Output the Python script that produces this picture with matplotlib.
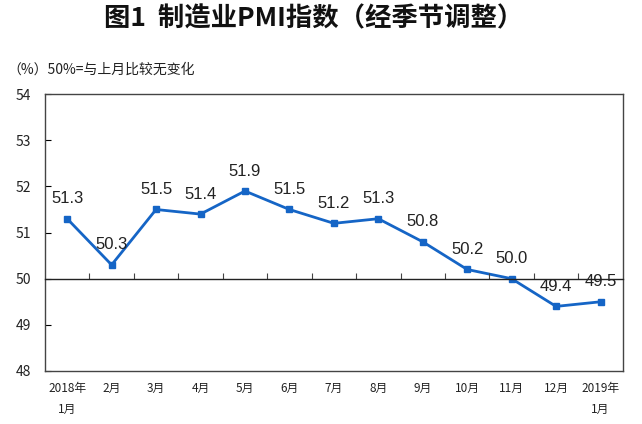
import matplotlib
matplotlib.use('Agg')
import matplotlib.pyplot as plt
import numpy as np

plt.rcParams['font.family'] = ['Noto Sans CJK SC', 'DejaVu Sans']
plt.rcParams['axes.unicode_minus'] = False

# 数据
MONTHS = ['2018年\n1月', '2月', '3月', '4月', '5月', '6月', '7月',
          '8月', '9月', '10月', '11月', '12月', '2019年\n1月']
PMI = [51.3, 50.3, 51.5, 51.4, 51.9, 51.5, 51.2, 51.3, 50.8, 50.2, 50.0, 49.4, 49.5]
Y_TICKS = [48, 49, 50, 51, 52, 53, 54]

LINE_COLOR = '#1565C6'

fig = plt.figure(figsize=(6.42, 4.24), dpi=100)
ax = fig.add_axes([0.070, 0.125, 0.900, 0.653])

x = np.arange(len(PMI))
ax.plot(x, PMI, color=LINE_COLOR, lw=2.0, marker='s', ms=4.5,
        markerfacecolor=LINE_COLOR, markeredgecolor=LINE_COLOR)

for xi, v in zip(x, PMI):
    ax.annotate(f'{v:.1f}', (xi, v), xytext=(0, 9), textcoords='offset points',
                ha='center', va='bottom', fontsize=12, color='#222222',
                family=['Liberation Sans', 'DejaVu Sans'])

ax.set_xlim(-0.5, len(PMI) - 0.5)
ax.set_ylim(48, 54)
ax.set_yticks(Y_TICKS)
ax.set_yticklabels([str(t) for t in Y_TICKS], fontsize=10, color='#222222')
ax.tick_params(axis='y', direction='in', length=4, pad=10, width=0.8)
ax.set_xticks(x)
ax.set_xticklabels(MONTHS, fontsize=8.5, color='#222222', linespacing=1.8)
ax.tick_params(axis='x', length=0, pad=8)
for s in ax.spines.values():
    s.set_color('#444444')
    s.set_linewidth(1.0)

# 50 基准线（带刻度）
ax2 = ax.twiny()
ax2.set_xlim(ax.get_xlim())
for name in ['top', 'left', 'right']:
    ax2.spines[name].set_visible(False)
ax2.spines['bottom'].set_position(('data', 50))
ax2.spines['bottom'].set_color('#222222')
ax2.spines['bottom'].set_linewidth(1.0)
ax2.xaxis.set_ticks_position('bottom')
ax2.set_xticks(x[:-1] + 0.5)
ax2.set_xticklabels([])
ax2.tick_params(axis='x', direction='in', length=4, width=0.8, color='#444444')

fig.text(0.488, 0.955, '图1  制造业PMI指数（经季节调整）', ha='center', va='center',
         fontsize=19, fontweight='bold', color='#111111')
fig.text(0.012, 0.835, '（%）50%=与上月比较无变化', ha='left', va='center',
         fontsize=10, color='#222222')

fig.savefig('out.png', dpi=100)
plt.close(fig)
